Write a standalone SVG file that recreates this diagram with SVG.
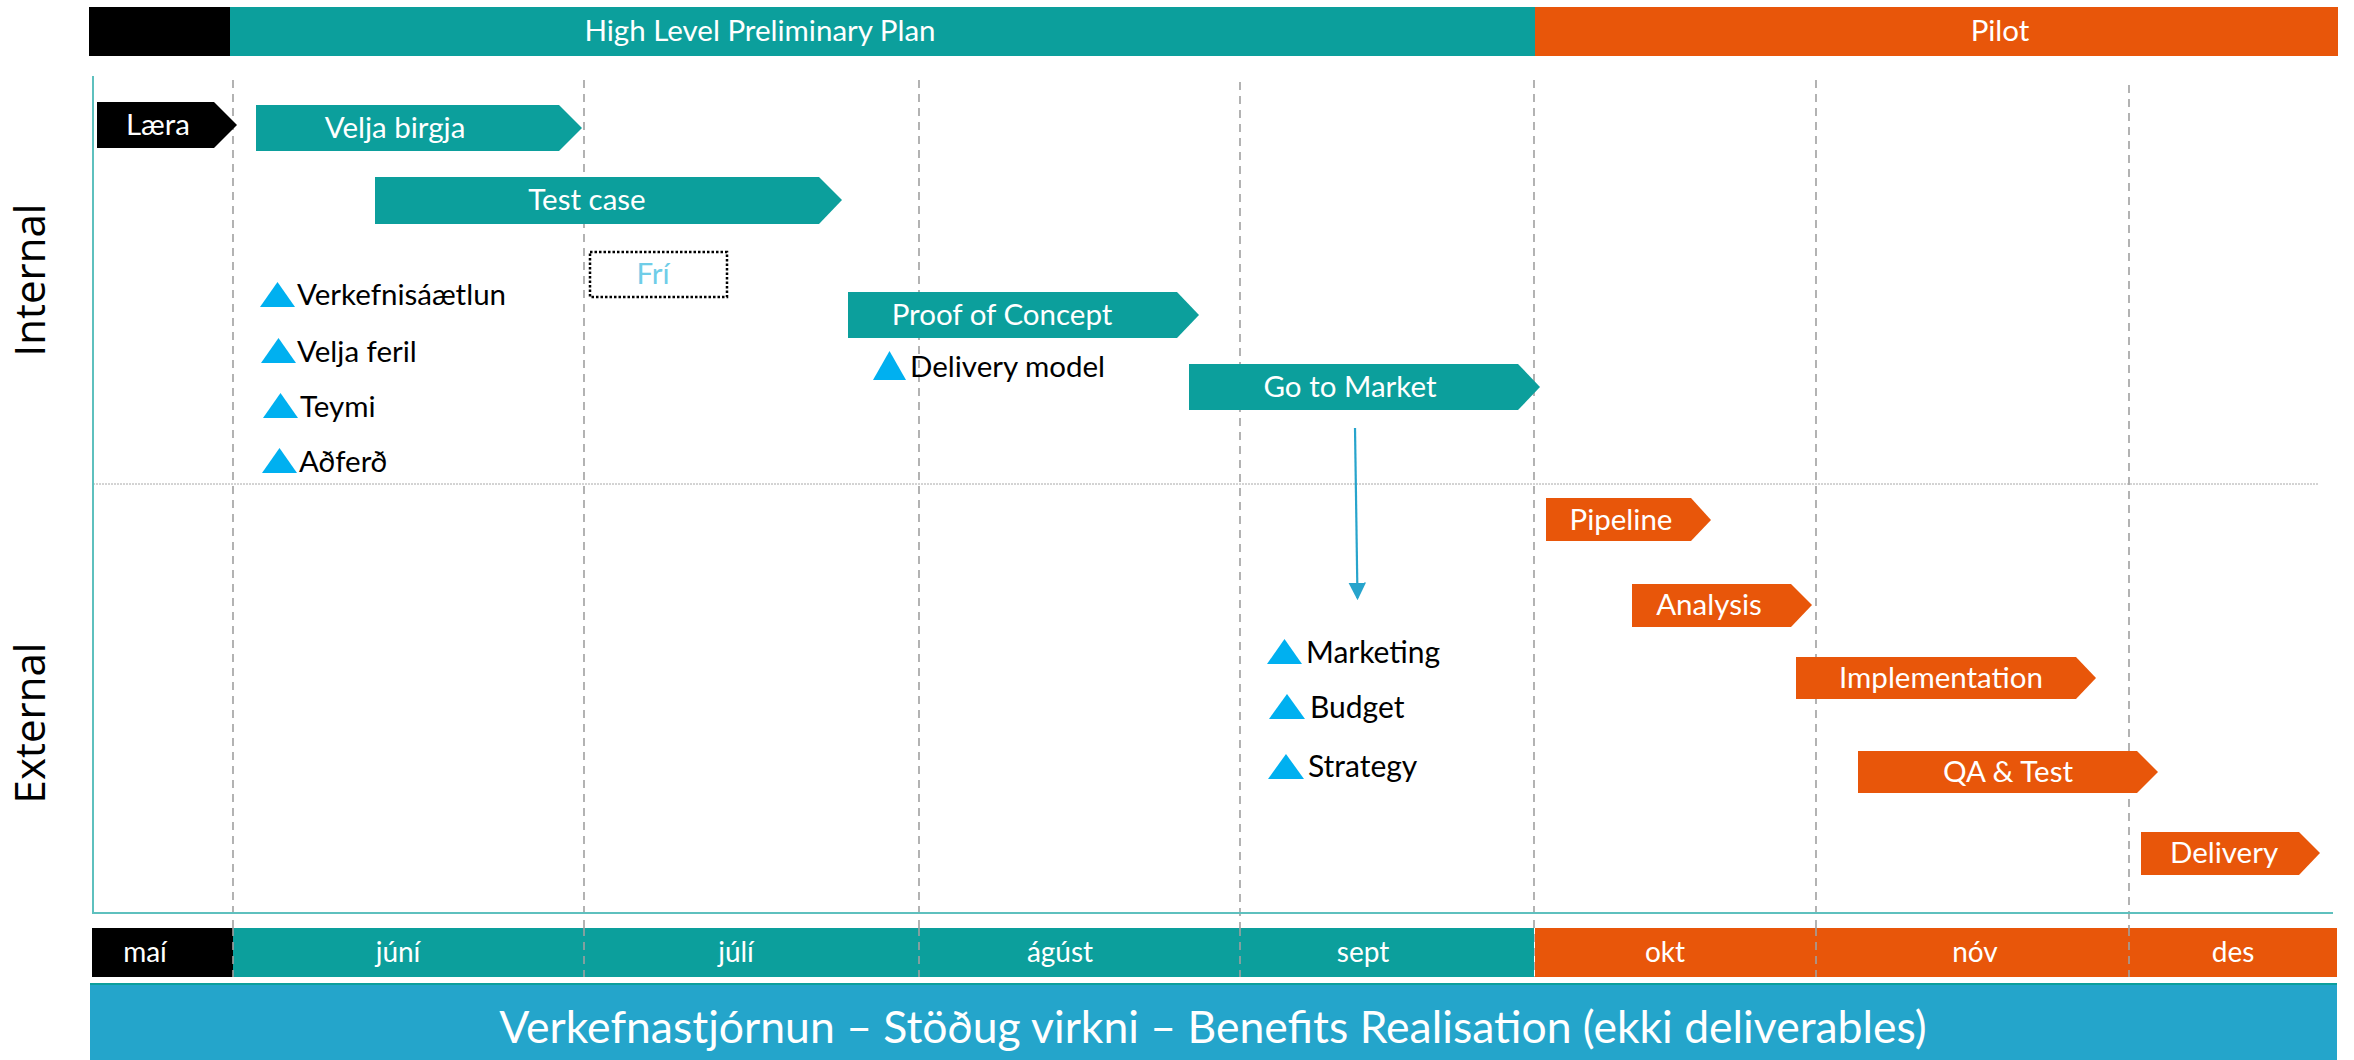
<svg xmlns="http://www.w3.org/2000/svg" width="2354" height="1060" viewBox="0 0 2354 1060">
<style>
text{font-family:Lato,"Open Sans","Liberation Sans",sans-serif}
.w{fill:#ffffff;font-size:29.5px;text-anchor:middle}
.m{fill:#ffffff;font-size:28px;text-anchor:middle}
.k{fill:#000000;font-size:29.5px}
.k2{fill:#000000;font-size:30px}
.teal{fill:#0c9f9c}
.orange{fill:#e8560a}
.blk{fill:#000000}
.tri{fill:#00b0f0}
.dash{stroke:#a0a0a0;stroke-width:1.6;stroke-dasharray:8 6;fill:none}
.side{font-family:"Open Sans","DejaVu Sans",sans-serif;font-size:42px;fill:#000000;text-anchor:middle}
</style>
<defs>
<marker id="ah" markerWidth="8" markerHeight="8" refX="7" refY="4" orient="auto" markerUnits="strokeWidth">
<path d="M0,0 L8,4 L0,8 Z" fill="#27a4cc"/>
</marker>
</defs>
<rect width="2354" height="1060" fill="#ffffff"/>

<g id="header">
<rect class="blk" x="89" y="7" width="141" height="49"/>
<rect class="teal" x="230" y="7" width="1305" height="49"/>
<rect class="orange" x="1535" y="7" width="803" height="49"/>
<text class="w" x="760" y="41">High Level Preliminary Plan</text>
<text class="w" x="2000" y="41">Pilot</text>
</g>

<g id="grid">
<line x1="233" y1="80" x2="233" y2="977" class="dash"/>
<line x1="584" y1="80" x2="584" y2="977" class="dash"/>
<line x1="919" y1="80" x2="919" y2="977" class="dash"/>
<line x1="1240" y1="82" x2="1240" y2="977" class="dash"/>
<line x1="1534" y1="80" x2="1534" y2="977" class="dash"/>
<line x1="1816" y1="80" x2="1816" y2="977" class="dash"/>
<line x1="2129" y1="85" x2="2129" y2="977" class="dash"/>
<line x1="93" y1="484" x2="2319" y2="484" stroke="#a8a8a8" stroke-width="1" stroke-dasharray="2 1"/>
<line x1="93" y1="76" x2="93" y2="914" stroke="#5ec0be" stroke-width="2"/>
<line x1="92" y1="913" x2="2333" y2="913" stroke="#5ec0be" stroke-width="2"/>
</g>

<g id="labels">
<text class="side" transform="translate(45,280) rotate(-90)">Internal</text>
<text class="side" transform="translate(45,723) rotate(-90)">External</text>
</g>

<g id="laera"><path class="blk" d="M97,102 H214 L237,125 L214,148 H97 Z"/><text class="w" x="158" y="135">Læra</text></g>
<g id="velja-birgja"><path class="teal" d="M256,105 H559 L582,128 L559,151 H256 Z"/><text class="w" x="395" y="138">Velja birgja</text></g>
<g id="test-case"><path class="teal" d="M375,177 H819 L842,200 L819,224 H375 Z"/><text class="w" x="587" y="210">Test case</text></g>
<g id="fri"><rect x="590" y="252" width="137" height="45" fill="none" stroke="#000000" stroke-width="2.5" stroke-dasharray="2.5 2"/><text x="653" y="284" font-size="29.5" fill="#6fcde8" text-anchor="middle">Frí</text></g>
<g id="proof-of-concept"><path class="teal" d="M848,292 H1177 L1199,315 L1177,338 H848 Z"/><text class="w" x="1002" y="325">Proof of Concept</text></g>
<g id="go-to-market"><path class="teal" d="M1189,364 H1518 L1540,387 L1518,410 H1189 Z"/><text class="w" x="1350" y="397">Go to Market</text></g>

<g id="ms-verkefnisaaetlun"><path class="tri" d="M260,307 L277.5,282 L295,307 Z"/><text class="k" x="297" y="305">Verkefnisáætlun</text></g>
<g id="ms-velja-feril"><path class="tri" d="M261,363 L278.5,338 L296,363 Z"/><text class="k" x="297" y="362">Velja feril</text></g>
<g id="ms-teymi"><path class="tri" d="M263,418 L280.5,393 L298,418 Z"/><text class="k" x="300" y="417">Teymi</text></g>
<g id="ms-adferd"><path class="tri" d="M262,473 L279.5,448 L297,473 Z"/><text class="k" x="299" y="472">Aðferð</text></g>
<g id="ms-delivery-model"><path class="tri" d="M873,380 L889.5,351 L906,380 Z"/><text class="k" x="910" y="377">Delivery model</text></g>
<g id="ms-marketing"><path class="tri" d="M1267,664 L1284.5,639 L1302,664 Z"/><text class="k2" x="1306" y="663">Marketing</text></g>
<g id="ms-budget"><path class="tri" d="M1269,719 L1287,694 L1305,719 Z"/><text class="k2" x="1310" y="718">Budget</text></g>
<g id="ms-strategy"><path class="tri" d="M1268,779 L1286,754 L1304,779 Z"/><text class="k2" x="1308" y="777">Strategy</text></g>

<g id="pipeline"><path class="orange" d="M1546,498 H1691 L1711,520 L1691,541 H1546 Z"/><text class="w" x="1621" y="530">Pipeline</text></g>
<g id="analysis"><path class="orange" d="M1632,584 H1791 L1812,605 L1791,627 H1632 Z"/><text class="w" x="1709" y="615">Analysis</text></g>
<g id="implementation"><path class="orange" d="M1796,657 H2076 L2096,678 L2076,699 H1796 Z"/><text class="w" x="1941" y="688">Implementation</text></g>
<g id="qa-test"><path class="orange" d="M1858,751 H2137 L2158,772 L2137,793 H1858 Z"/><text class="w" x="2008" y="782">QA &amp; Test</text></g>
<g id="delivery"><path class="orange" d="M2141,832 H2299 L2320,853 L2299,875 H2141 Z"/><text class="w" x="2224" y="863">Delivery</text></g>

<g id="connectors">
<line x1="1355" y1="428" x2="1357.5" y2="598" stroke="#27a4cc" stroke-width="2.2" marker-end="url(#ah)"/>
</g>

<g id="months">
<rect class="blk" x="92" y="928" width="141" height="49"/>
<rect class="teal" x="233" y="928" width="1301" height="49"/>
<rect class="orange" x="1535" y="928" width="802" height="49"/>
<text class="m" x="145" y="962">maí</text>
<text class="m" x="398" y="962">júní</text>
<text class="m" x="736" y="962">júlí</text>
<text class="m" x="1060" y="962">ágúst</text>
<text class="m" x="1363" y="962">sept</text>
<text class="m" x="1665" y="962">okt</text>
<text class="m" x="1975" y="962">nóv</text>
<text class="m" x="2233" y="962">des</text>
</g>
<g id="grid-overlay">
<line x1="233" y1="928" x2="233" y2="977" class="dash"/>
<line x1="584" y1="928" x2="584" y2="977" class="dash"/>
<line x1="919" y1="928" x2="919" y2="977" class="dash"/>
<line x1="1240" y1="928" x2="1240" y2="977" class="dash"/>
<line x1="1816" y1="928" x2="1816" y2="977" class="dash"/>
<line x1="2129" y1="928" x2="2129" y2="977" class="dash"/>
</g>

<g id="footer">
<rect x="90" y="983" width="2247" height="77" fill="#24a5cb"/>
<rect x="90" y="983" width="2247" height="2" fill="#0c9f9c"/>
<text x="1213" y="1043" font-size="44.5" fill="#ffffff" text-anchor="middle">Verkefnastjórnun – Stöðug virkni – Benefits Realisation (ekki deliverables)</text>
</g>
</svg>
